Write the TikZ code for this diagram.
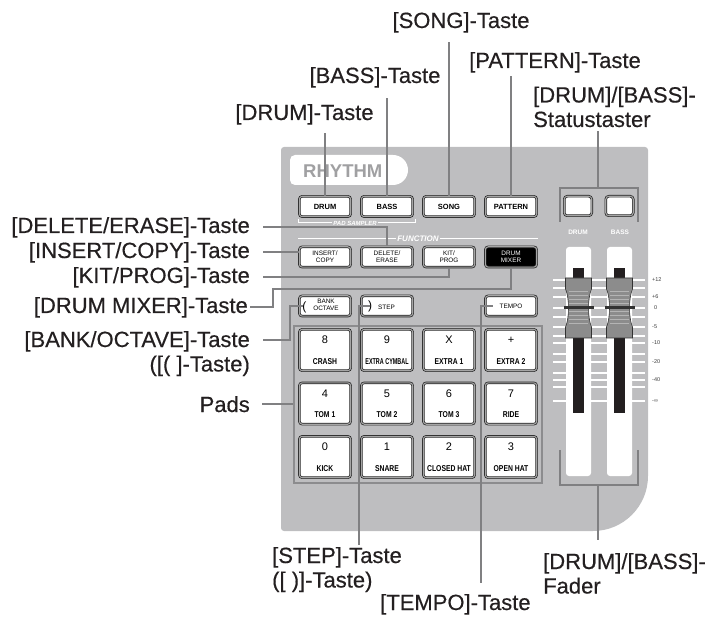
\documentclass[tikz,border=0pt]{standalone}
\usepackage{fontspec}
\usepackage{graphicx}
\setmainfont{Liberation Sans}
\newfontfamily\narrowfont[FakeStretch=0.8]{Liberation Sans}
\newfontfamily\calloutfont[FakeBold=0.4]{Liberation Sans}
\definecolor{panel}{RGB}{190,190,192}
\definecolor{ink}{RGB}{35,31,32}
\definecolor{connGray}{RGB}{128,128,130}
\definecolor{frameGray}{RGB}{140,140,142}
\definecolor{btnLine}{RGB}{35,35,35}
\definecolor{btnGap}{RGB}{165,165,165}
\definecolor{rhythmGray}{RGB}{160,160,162}
\definecolor{knobGray}{RGB}{140,140,140}
\definecolor{knobLight}{RGB}{180,180,180}
\definecolor{knobLine}{RGB}{50,50,50}
\definecolor{markInk}{RGB}{60,60,60}
\newcommand{\parenfont}{\fontsize{12}{12}\selectfont}

\begin{document}
\begin{tikzpicture}[x=1pt, y=-1pt,
    labeltext/.style={font=\calloutfont\fontsize{22}{24.5}\selectfont, text=ink, inner sep=0pt},
    conn/.style={draw=connGray, line width=2pt},
    btn/.style={draw=btnLine, double=btnGap, double distance=1.1pt, line width=0.7pt,
                fill=white, rounded corners=3pt, minimum width=51.4pt,
                minimum height=20.4pt, inner sep=0pt, align=center,
                font=\bfseries\fontsize{7.5}{8}\selectfont},
    smallbtn/.style={btn, font=\fontsize{6.4}{6.6}\selectfont},
    padkey/.style={btn, minimum height=41.4pt},
    padnum/.style={inner sep=0pt, font=\fontsize{11}{11}\selectfont},
    padname/.style={inner sep=0pt, font=\narrowfont\bfseries\fontsize{8.5}{9}\selectfont},
    dbmark/.style={inner sep=0pt, anchor=west, text=markInk, font=\fontsize{5.5}{6}\selectfont},
    paneltext/.style={inner sep=1.5pt, text=white, fill=panel,
                      font=\bfseries\itshape\fontsize{6}{6}\selectfont}
]
    \useasboundingbox (0,0) rectangle (717,617);

    % device panel
    \fill[panel] (281,531) [rounded corners=3pt] -- (281,147) -- (648,147)
        [rounded corners=55pt] -- (648,531) [rounded corners=3pt] -- cycle;
    \fill[white] (290,170) [rounded corners=5pt] -- (290,155) [rounded corners=15pt]
        -- (408,155) -- (408,185) [rounded corners=5pt] -- (290,185) -- cycle;
    \node[inner sep=0pt, anchor=base west, text=rhythmGray,
          font=\bfseries\fontsize{18.5}{19}\selectfont] (rhythm) at (303,177.5) {RHYTHM};

    \draw[white, line width=1pt] (298,219) -- (298,223) -- (415,223) -- (415,219);
    \node[paneltext] (padSampler) at (355,223) {PAD SAMPLER};
    \draw[white, line width=1pt] (298,239) -- (538,239);
    \node[paneltext, font=\bfseries\itshape\fontsize{8}{8}\selectfont] (fnText) at (418,239) {FUNCTION};

    % fader scale and faders
    \foreach \yy in {280,288,297,308,317,327,336,343,354,362,373,380,387,401}
        \draw[white, line width=1.2pt] (553,\yy) -- (645,\yy);
    \foreach \cx in {578.5,619.5} {
        \fill[white, rounded corners=3pt] (\cx-12.5,247) rectangle (\cx+12.5,476);
        \fill[ink] (\cx-5.5,268) rectangle (\cx+5.5,413);
        \filldraw[fill=knobGray, draw=knobLine, line width=0.6pt]
            (\cx-13,278) -- (\cx+13,278) -- (\cx+13,289)
            .. controls (\cx+9,298) and (\cx+9,318) .. (\cx+13,327)
            -- (\cx+13,338) -- (\cx-13,338) -- (\cx-13,327)
            .. controls (\cx-9,318) and (\cx-9,298) .. (\cx-13,289) -- cycle;
        \foreach \yy in {292,296,300,304,312,316,320,324}
            \draw[knobLight, line width=1pt] (\cx-9.5,\yy) -- (\cx+9.5,\yy);
        \fill[knobLine] (\cx-15,306.5) rectangle (\cx+15,309.5);
    }
    \node[dbmark] (m1) at (652,280) {+12};
    \node[dbmark] (m2) at (652,297) {+6};
    \node[dbmark] (m3) at (654,308) {0};
    \node[dbmark] (m4) at (652,327) {-5};
    \node[dbmark] (m5) at (652,343) {-10};
    \node[dbmark] (m6) at (652,362) {-20};
    \node[dbmark] (m7) at (652,380) {-40};
    \node[dbmark] (m8) at (652,401) {-∞};

    \node[btn, minimum width=27.5pt, minimum height=19.5pt] (sDrum) at (578,206) {};
    \node[btn, minimum width=27.5pt, minimum height=19.5pt] (sBass) at (619.5,206) {};
    \node[inner sep=0pt, text=white, font=\bfseries\fontsize{6.5}{7}\selectfont] (fDrum) at (578,232) {DRUM};
    \node[inner sep=0pt, text=white, font=\bfseries\fontsize{6.5}{7}\selectfont] (fBass) at (620,232) {BASS};

    % buttons
    \node[btn] (bDrum) at (325,206.5) {DRUM};
    \node[btn] (bBass) at (387,206.5) {BASS};
    \node[btn] (bSong) at (449,206.5) {SONG};
    \node[btn] (bPattern) at (511,206.5) {PATTERN};
    \node[smallbtn] (bInsert) at (325,257) {INSERT/\\COPY};
    \node[smallbtn] (bDelete) at (387,257) {DELETE/\\ERASE};
    \node[smallbtn] (bKit) at (449,257) {KIT/\\PROG};
    \node[smallbtn, fill=black, text=white] (bMixer) at (511,257) {DRUM\\MIXER};
    \node[smallbtn] (bBank) at (325,306) {{\parenfont(}\hspace{7pt}\shortstack{BANK\\OCTAVE}\hspace{9pt}};
    \node[smallbtn] (bStep) at (387,306) {{\parenfont)}\hspace{6pt}STEP\hspace{11pt}};
    \node[smallbtn] (bTempo) at (511,306) {TEMPO};

    % pads
    \node[draw=frameGray, line width=2pt, minimum width=248pt, minimum height=157pt,
          inner sep=0pt] (padFrame) at (418,404.5) {};
    \foreach \c/\r/\n/\t [count=\k] in {0/0/8/CRASH, 1/0/9/{\scalebox{0.8}[1]{EXTRA CYMBAL}},
            2/0/X/EXTRA 1, 3/0/+/EXTRA 2, 0/1/4/TOM 1, 1/1/5/TOM 2, 2/1/6/TOM 3,
            3/1/7/RIDE, 0/2/0/KICK, 1/2/1/SNARE, 2/2/2/CLOSED HAT, 3/2/3/OPEN HAT} {
        \node[padkey] (pad\k) at (325+62*\c, 350+53.5*\r) {};
        \node[padnum] (padn\k) at ([yshift=10pt]pad\k.center) {\n};
        \node[padname] (padt\k) at ([yshift=-11.5pt]pad\k.center) {\t};
    }

    % callouts
    \node[labeltext, anchor=base] (lSong) at (461,28) {[SONG]-Taste};
    \node[labeltext, anchor=base] (lPattern) at (555,68) {[PATTERN]-Taste};
    \node[labeltext, anchor=base] (lBass) at (375,83) {[BASS]-Taste};
    \node[labeltext, anchor=base] (lDrum) at (304.5,120) {[DRUM]-Taste};
    \node[labeltext, anchor=base west, align=left] (lStatus) at (533,127) {[DRUM]/[BASS]-\\Statustaster};
    \node[labeltext, anchor=base east] (lDelete) at (250,233) {[DELETE/ERASE]-Taste};
    \node[labeltext, anchor=base east] (lInsert) at (250,258) {[INSERT/COPY]-Taste};
    \node[labeltext, anchor=base east] (lKit) at (250,283) {[KIT/PROG]-Taste};
    \node[labeltext, anchor=base east] (lMixer) at (248,313) {[DRUM MIXER]-Taste};
    \node[labeltext, anchor=base east, align=right] (lBank) at (250,371.5) {[BANK/OCTAVE]-Taste\\([( ]-Taste)};
    \node[labeltext, anchor=base east] (lPads) at (250,412) {Pads};
    \node[labeltext, anchor=base west, align=left] (lStep) at (272,587.5) {[STEP]-Taste\\([ )]-Taste)};
    \node[labeltext, anchor=base west] (lTempo) at (380,610) {[TEMPO]-Taste};
    \node[labeltext, anchor=base west, align=left] (lFader) at (543,593.5) {[DRUM]/[BASS]-\\Fader};

    \coordinate (stTop) at (598,188);
    \coordinate (fadMid) at (598,485);
    \coordinate (mixKnee) at (273,289);
    \coordinate (bankKnee) at (290,306);
    \coordinate (stepKnee) at ([xshift=-2pt]bStep.west);
    \coordinate (tempoKnee) at ([xshift=-4pt]bTempo.west);

    \draw[conn] (bDrum.north) -- ([yshift=-8pt]lDrum.south -| bDrum.north);
    \draw[conn] (bBass.north) -- ([yshift=-10pt]lBass.south -| bBass.north);
    \draw[conn] (bSong.north) -- ([yshift=-9pt]lSong.south -| bSong.north);
    \draw[conn] (bPattern.north) -- ([yshift=-3pt]lPattern.south -| bPattern.north);
    \draw[conn] (560,222) |- (stTop) -| (638,222);
    \draw[conn] (stTop) -- ([yshift=-4pt]lStatus.south -| stTop);
    \draw[conn] ([xshift=13pt]lDelete.east) -| (bDelete.north);
    \draw[conn] ([xshift=13pt]lInsert.east) -- (lInsert.east -| bInsert.west);
    \draw[conn] ([xshift=13pt]lKit.east) -| (bKit.south);
    \draw[conn] ([xshift=2pt]lMixer.east) -| (mixKnee) -| (bMixer.south);
    \draw[conn] ([xshift=13pt,yshift=13.5pt]lBank.east) -| (bankKnee) -- ([xshift=4pt]bBank.west);
    \draw[conn] ([xshift=12pt]lPads.east) -- (lPads.east -| padFrame.west);
    \draw[conn] ([xshift=9pt]bStep.west) -- (stepKnee) -- ([yshift=2pt]lStep.north -| stepKnee);
    \draw[conn] ([xshift=8pt]bTempo.west) -- (tempoKnee) -- ([yshift=11pt]lTempo.north -| tempoKnee);
    \draw[conn] (560,450) |- (fadMid) -| (638,450);
    \draw[conn] (fadMid) -- ([yshift=13pt]lFader.north -| fadMid);
\end{tikzpicture}
\end{document}
